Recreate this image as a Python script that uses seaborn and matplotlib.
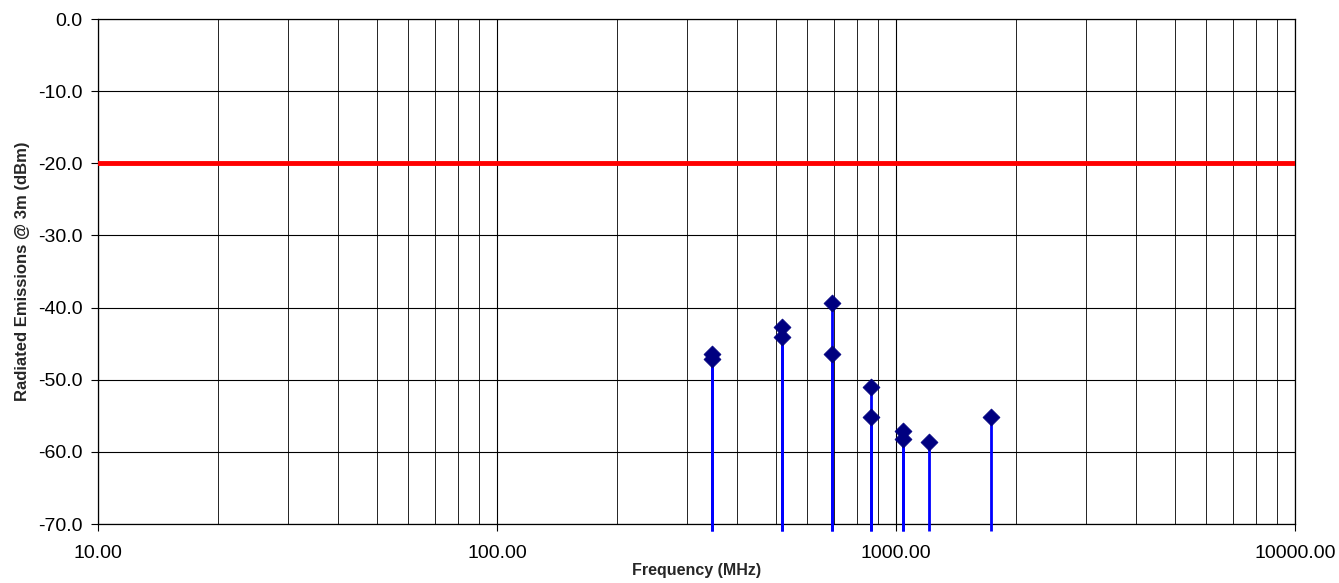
import pandas as pd
import matplotlib
matplotlib.use("Agg")
import matplotlib.pyplot as plt
import seaborn as sns
from matplotlib.ticker import LogLocator, FixedLocator, FuncFormatter, NullFormatter

freq_mhz = [346, 346, 518, 518, 692, 692, 865, 865, 1039, 1039, 1212, 1727]
level_dbm = [-46.4, -47.1, -42.7, -44.1, -39.4, -46.4, -51.0, -55.2, -57.1, -58.2, -58.7, -55.1]
limit_dbm = -20.0
x_ticks = [10, 100, 1000, 10000]
y_ticks = [0, -10, -20, -30, -40, -50, -60, -70]

df = pd.DataFrame({"freq": freq_mhz, "level": level_dbm})

sns.set_style("white")
plt.rcParams['font.family'] = ['Liberation Sans', 'DejaVu Sans']

fig = plt.figure(figsize=(13.39, 5.83), dpi=100)
ax = fig.add_axes([0.0732, 0.1012, 0.8939, 0.8662])
ax.set_xscale("log")
ax.set_xlim(10, 10000)
ax.set_ylim(-70, 0)

# grid: decades + 2..9 minor
ax.xaxis.set_major_locator(FixedLocator(x_ticks))
ax.xaxis.set_minor_locator(LogLocator(base=10, subs=range(2, 10)))
ax.xaxis.set_minor_formatter(NullFormatter())
ax.xaxis.set_major_formatter(FuncFormatter(lambda v, p: f"{v:.2f}"))
ax.yaxis.set_major_locator(FixedLocator(y_ticks))
ax.yaxis.set_major_formatter(FuncFormatter(lambda v, p: f"{v:.1f}"))
ax.grid(True, which="major", color="black", lw=0.8)
ax.grid(True, which="minor", axis="x", color="black", lw=0.6)
ax.set_axisbelow(True)

# limit line
ax.axhline(limit_dbm, color="#ff0000", lw=3.5, zorder=3)

# drop lines (poke slightly below the axis like the original)
ax.vlines(df["freq"], -71, df["level"], color="#0000ff", lw=2, zorder=4, clip_on=False)
sns.scatterplot(data=df, x="freq", y="level", marker="D", s=75, color="#000080",
                edgecolor="#000080", linewidth=0.5, ax=ax, zorder=5, legend=False)

for s in ax.spines.values():
    s.set_color("black")
    s.set_linewidth(0.9)

ax.tick_params(axis="both", which="major", direction="out", length=5, width=0.8,
               labelsize=14, colors="black", bottom=True, left=True)
ax.tick_params(axis="x", which="minor", length=0)
ax.tick_params(axis="x", which="major", pad=10)
ax.tick_params(axis="y", which="major", pad=6)

ax.set_xlabel("Frequency (MHz)", fontsize=11.5, fontweight="bold", labelpad=1)
ax.set_ylabel("Radiated Emissions @ 3m (dBm)", fontsize=12, fontweight="bold", labelpad=6)

fig.savefig("out.png", dpi=100)
